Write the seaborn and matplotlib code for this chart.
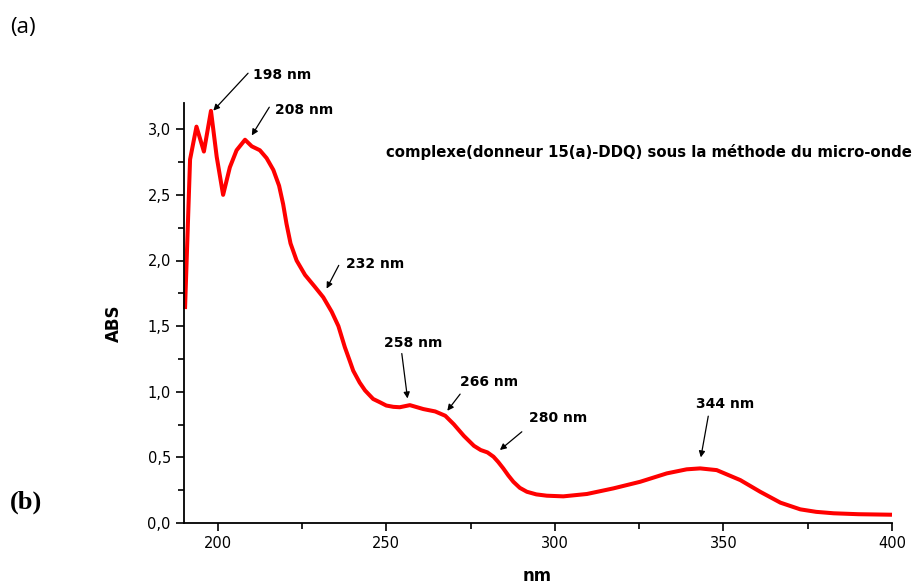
import pandas as pd
import seaborn as sns
import matplotlib.pyplot as plt
from matplotlib.ticker import MultipleLocator, FuncFormatter

# Spectrum (wavelength nm, absorbance)
wavelength = [190.3, 191.8, 193.7, 195.9, 198.0, 199.7, 201.6, 203.6, 205.6, 208.1,
              210.1, 212.5, 214.5, 216.5, 218.2, 219.4, 220.4, 221.6, 223.4, 225.9,
              228.8, 231.3, 233.8, 235.8, 237.7, 239.1, 240.2, 242.1, 243.7, 246.1,
              248.1, 250.0, 252.1, 254.0, 257.0, 261.0, 264.5, 267.5, 270.0, 273.0,
              276.0, 278.0, 280.0, 281.8, 283.2, 284.7, 286.2, 287.7, 289.6, 291.7,
              294.5, 297.6, 302.5, 309.5, 317.4, 325.3, 333.2, 339.1, 343.1, 348.0,
              355.0, 360.9, 366.9, 372.8, 377.5, 382.7, 390.0, 400.0]
absorbance = [1.63, 2.77, 3.02, 2.83, 3.14, 2.79, 2.50, 2.71, 2.84, 2.92,
              2.87, 2.84, 2.78, 2.69, 2.57, 2.43, 2.28, 2.13, 2.00, 1.89,
              1.80, 1.72, 1.61, 1.50, 1.34, 1.24, 1.16, 1.07, 1.01, 0.945,
              0.920, 0.895, 0.885, 0.882, 0.898, 0.868, 0.850, 0.817, 0.753, 0.664,
              0.588, 0.556, 0.538, 0.505, 0.465, 0.416, 0.362, 0.314, 0.268, 0.238,
              0.218, 0.208, 0.203, 0.221, 0.264, 0.314, 0.378, 0.409, 0.416, 0.403,
              0.327, 0.238, 0.155, 0.104, 0.085, 0.074, 0.067, 0.063]

# Peak labels: text, text anchor (left, middle), arrow tail, arrow head
peak_labels = ["198 nm", "208 nm", "232 nm", "258 nm", "266 nm", "280 nm", "344 nm"]
label_pos = [(210.4, 3.414), (217.0, 3.148), (238.0, 1.971), (249.4, 1.372),
             (271.9, 1.075), (292.4, 0.801), (341.9, 0.903)]
arrow_tail = [(209.0, 3.427), (215.3, 3.168), (235.9, 1.963), (254.6, 1.291),
              (271.9, 0.982), (290.2, 0.695), (345.5, 0.814)]
arrow_head = [(198.7, 3.142), (210.1, 2.953), (232.3, 1.786), (256.3, 0.949),
              (268.1, 0.855), (283.7, 0.556), (343.3, 0.500)]

df = pd.DataFrame({"nm": wavelength, "ABS": absorbance})

sns.set_style("ticks")
plt.rcParams["font.family"] = ["DejaVu Sans"]
plt.rcParams["text.color"] = "black"
plt.rcParams["axes.labelcolor"] = "black"
plt.rcParams["xtick.color"] = "black"
plt.rcParams["ytick.color"] = "black"

fig = plt.figure(figsize=(9.16, 5.86), dpi=100)
ax = fig.add_axes([184 / 916, 1 - 523 / 586, 708 / 916, 420 / 586])

sns.lineplot(data=df, x="nm", y="ABS", ax=ax, color="#ff0000", linewidth=2.9,
             sort=False, solid_joinstyle="round", solid_capstyle="butt", clip_on=False)

ax.set_xlim(190, 400)
ax.set_ylim(0, 3.2)
ax.xaxis.set_major_locator(MultipleLocator(50))
ax.xaxis.set_minor_locator(MultipleLocator(25))
ax.yaxis.set_major_locator(MultipleLocator(0.5))
ax.yaxis.set_minor_locator(MultipleLocator(0.25))
ax.yaxis.set_major_formatter(FuncFormatter(lambda v, p: f"{v:.1f}".replace(".", ",")))
ax.tick_params(axis="both", which="major", direction="out", length=6, width=1.2,
               labelsize=10.5, colors="black")
ax.tick_params(axis="both", which="minor", direction="out", length=4, width=1.2)
sns.despine(ax=ax)
for s in ["left", "bottom"]:
    ax.spines[s].set_linewidth(1.3)
    ax.spines[s].set_color("black")

ax.set_xlabel("nm", fontsize=12, fontweight="bold")
ax.set_ylabel("ABS", fontsize=12, fontweight="bold")
ax.xaxis.set_label_coords(0.4986, -0.105)
ax.yaxis.set_label_coords(-0.086, 0.476)

for lab, pos, tail, head in zip(peak_labels, label_pos, arrow_tail, arrow_head):
    ax.text(pos[0], pos[1], lab, fontsize=10, fontweight="bold", ha="left",
            va="center", clip_on=False)
    ax.annotate("", xy=head, xytext=tail, annotation_clip=False,
                arrowprops=dict(arrowstyle="-|>", color="black", lw=0.9,
                                mutation_scale=9, shrinkA=0, shrinkB=0))

ax.text(249.9, 2.823, "complexe(donneur 15(a)-DDQ) sous la méthode du micro-onde",
        fontsize=10.7, fontweight="bold", ha="left", va="center", clip_on=False)

fig.text(10 / 916, 1 - 27 / 586, "(a)", fontsize=16, ha="left", va="center",
         family=["Open Sans", "DejaVu Sans"])
fig.text(10 / 916, 1 - 502 / 586, "(b)", fontsize=19, fontweight="bold", ha="left",
         va="center", family=["Liberation Serif", "DejaVu Serif"])

fig.savefig("out.png", dpi=100)
